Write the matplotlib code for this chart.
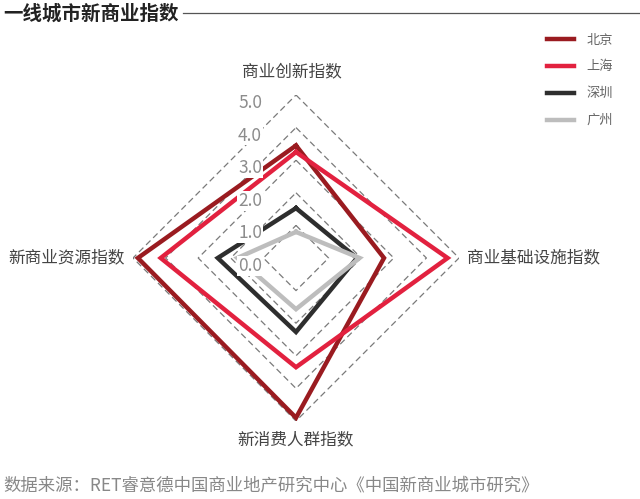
import numpy as np
import matplotlib
matplotlib.use("Agg")
import matplotlib.pyplot as plt
from matplotlib.lines import Line2D

plt.rcParams['font.family'] = ['Noto Sans CJK SC', 'DejaVu Sans']

# axes clockwise from top
axes_names = ['商业创新指数', '商业基础设施指数', '新消费人群指数', '新商业资源指数']
cities = ['北京', '上海', '深圳', '广州']
beijing = [3.45, 2.7, 4.9, 4.85]
shanghai = [3.25, 4.65, 3.35, 4.15]
shenzhen = [1.53, 1.87, 2.27, 2.4]
guangzhou = [0.8, 1.95, 1.57, 1.8]
ticks = [0, 1, 2, 3, 4, 5]

series = [beijing, shanghai, shenzhen, guangzhou]
colors = ['#9a1b20', '#e2213f', '#2e2e2e', '#bdbdbd']

fig = plt.figure(figsize=(6.4, 4.99), dpi=100)
# polar axes centred at (296, 258) px, r=5 -> 163 px
cx, cy, R = 296 / 640, 1 - 258 / 499, 163
ax = fig.add_axes([cx - R / 640, cy - R / 499, 2 * R / 640, 2 * R / 499], polar=True)
ax.set_theta_offset(np.pi / 2)
ax.set_theta_direction(-1)
ax.set_ylim(0, 5)
ax.set_xticks([])
ax.set_yticks([])
ax.grid(False)
ax.spines['polar'].set_visible(False)
ax.patch.set_alpha(0)

theta = np.linspace(0, 2 * np.pi, len(axes_names), endpoint=False)
th_closed = np.append(theta, theta[0])

# dashed diamond grid
for t in ticks[1:]:
    ax.plot(th_closed, [t] * (len(theta) + 1), color='#7a7a7a', lw=0.9,
            ls=(0, (5, 3)), zorder=1)

for vals, c, name in zip(series, colors, cities):
    ax.plot(th_closed, vals + vals[:1], color=c, lw=3.2, label=name, zorder=3,
            solid_joinstyle='miter')

# radial tick labels with white background
for t in ticks:
    ax.annotate(f'{t:.1f}', xy=(0, t), xytext=(-34, -8), textcoords='offset pixels',
                ha='right', va='center', fontsize=12.5, color='#8c8c8c', zorder=5,
                bbox=dict(boxstyle='square,pad=0.05', fc='white', ec='none'))

# category labels
lab = dict(fontsize=12, color='#444444', va='center', textcoords='offset pixels')
ax.annotate(axes_names[0], xy=(theta[0], 5), xytext=(-4, 23), ha='center', **lab)
ax.annotate(axes_names[1], xy=(theta[1], 5), xytext=(8, 0), ha='left', **lab)
ax.annotate(axes_names[2], xy=(theta[2], 5), xytext=(0, -19), ha='center', **lab)
ax.annotate(axes_names[3], xy=(theta[3], 5), xytext=(-8, 0), ha='right', **lab)

# title and rule
fig.text(3 / 640, 1 - 14 / 499, '一线城市新商业指数', fontsize=14, fontweight='bold',
         color='#222222', ha='left', va='center')
fig.add_artist(Line2D([183 / 640, 1.0], [1 - 13 / 499] * 2, color='#555555', lw=0.9))

handles, labels = ax.get_legend_handles_labels()
fig.legend(handles, labels, loc='upper left', bbox_to_anchor=(540 / 640, 1 - 27 / 499),
           frameon=False, fontsize=9.5, handlelength=2.1, handletextpad=0.9,
           labelspacing=1.05, borderpad=0, labelcolor='#666666')

fig.text(3 / 640, 1 - 486 / 499, '数据来源：RET睿意德中国商业地产研究中心《中国新商业城市研究》',
         fontsize=12.5, color='#888888', ha='left', va='center', style='italic')

fig.savefig('out.png', dpi=100)
